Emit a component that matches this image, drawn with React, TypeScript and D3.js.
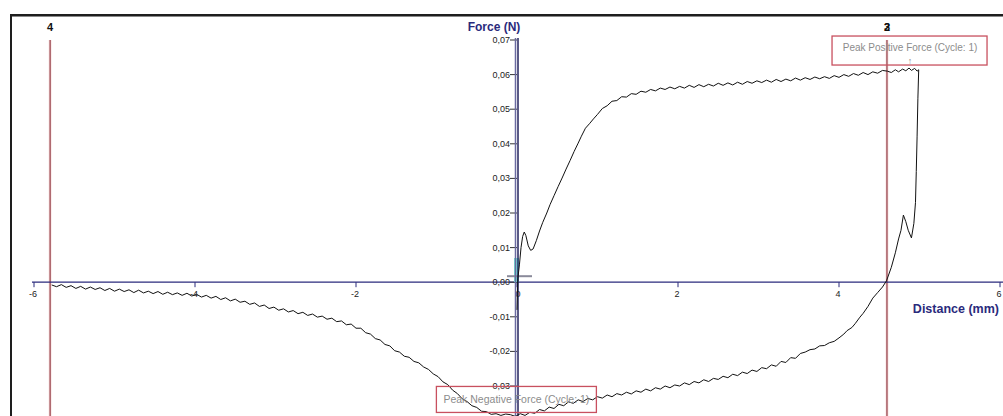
import * as d3 from "d3";
import React from "react";

// cycle 1, lower branch left of the origin (distance mm, force N)
const leftLowerBranch: [number, number][] = [
  [-5.78, -0.0008], [-5.72, -0.0013], [-5.66, -0.0007], [-5.6, -0.0015], [-5.54, -0.001], [-5.48, -0.0018],
  [-5.42, -0.0012], [-5.36, -0.002], [-5.3, -0.0014], [-5.24, -0.0021], [-5.18, -0.0016], [-5.12, -0.0024],
  [-5.06, -0.0018], [-5.0, -0.0026], [-4.94, -0.002], [-4.88, -0.0027], [-4.82, -0.0022], [-4.76, -0.003],
  [-4.7, -0.0023], [-4.64, -0.0031], [-4.58, -0.0026], [-4.52, -0.0033], [-4.46, -0.0027], [-4.4, -0.0035],
  [-4.34, -0.0029], [-4.28, -0.0036], [-4.22, -0.0031], [-4.16, -0.0038], [-4.1, -0.0032], [-4.04, -0.004],
  [-3.98, -0.0035], [-3.92, -0.0043], [-3.86, -0.0038], [-3.8, -0.0046], [-3.74, -0.0041], [-3.68, -0.005],
  [-3.62, -0.0045], [-3.56, -0.0054], [-3.5, -0.0049], [-3.44, -0.0058], [-3.38, -0.0055], [-3.32, -0.0064],
  [-3.26, -0.006], [-3.2, -0.007], [-3.14, -0.0066], [-3.08, -0.0076], [-3.02, -0.0072], [-2.96, -0.0081],
  [-2.9, -0.0077], [-2.84, -0.0086], [-2.78, -0.0082], [-2.72, -0.0091], [-2.66, -0.0087], [-2.6, -0.0096],
  [-2.54, -0.0092], [-2.48, -0.0101], [-2.42, -0.0098], [-2.36, -0.0107], [-2.3, -0.0104], [-2.24, -0.0114],
  [-2.18, -0.0112], [-2.12, -0.0123], [-2.06, -0.0121], [-2.0, -0.0133], [-1.94, -0.0133], [-1.88, -0.0146],
  [-1.82, -0.015], [-1.76, -0.0163], [-1.7, -0.0167], [-1.64, -0.018], [-1.58, -0.0184], [-1.52, -0.0198],
  [-1.46, -0.0202], [-1.4, -0.0214], [-1.34, -0.0217], [-1.28, -0.0229], [-1.22, -0.0233], [-1.16, -0.0245],
  [-1.1, -0.0252], [-1.04, -0.0265], [-0.98, -0.0273], [-0.92, -0.0288], [-0.86, -0.0296], [-0.8, -0.0312],
  [-0.74, -0.0322], [-0.68, -0.0337], [-0.62, -0.0345], [-0.56, -0.0357], [-0.5, -0.0362], [-0.44, -0.0373],
  [-0.38, -0.0374], [-0.32, -0.0382], [-0.26, -0.038], [-0.2, -0.0385], [-0.14, -0.0381], [-0.08, -0.0383],
  [-0.02, -0.0388],
];

// lower branch right of the origin, up to the second cursor
const rightLowerBranch: [number, number][] = [
  [0.04, -0.038], [0.1, -0.0385], [0.16, -0.0376], [0.22, -0.0379], [0.28, -0.0368], [0.34, -0.0372],
  [0.4, -0.0361], [0.46, -0.0365], [0.52, -0.0353], [0.58, -0.0357], [0.64, -0.0346], [0.7, -0.035],
  [0.76, -0.034], [0.82, -0.0345], [0.88, -0.0336], [0.94, -0.034], [1.0, -0.0331], [1.06, -0.0335],
  [1.12, -0.0326], [1.18, -0.0331], [1.24, -0.0322], [1.3, -0.0326], [1.36, -0.0318], [1.42, -0.0323],
  [1.48, -0.0314], [1.54, -0.0318], [1.6, -0.0309], [1.66, -0.0314], [1.72, -0.0305], [1.78, -0.0309],
  [1.84, -0.03], [1.9, -0.0305], [1.96, -0.0297], [2.02, -0.03], [2.08, -0.0291], [2.14, -0.0296],
  [2.2, -0.0287], [2.26, -0.0291], [2.32, -0.0282], [2.38, -0.0287], [2.44, -0.0278], [2.5, -0.0281],
  [2.56, -0.0272], [2.62, -0.0276], [2.68, -0.0266], [2.74, -0.027], [2.8, -0.026], [2.86, -0.0264],
  [2.92, -0.0254], [2.98, -0.0258], [3.04, -0.0247], [3.1, -0.025], [3.16, -0.0239], [3.22, -0.0243],
  [3.28, -0.0229], [3.34, -0.0232], [3.4, -0.0218], [3.46, -0.022], [3.52, -0.0206], [3.58, -0.0202],
  [3.64, -0.0195], [3.7, -0.0193], [3.76, -0.0184], [3.82, -0.0183], [3.88, -0.0175], [3.94, -0.0171],
  [4.0, -0.0161], [4.06, -0.015], [4.1, -0.014], [4.16, -0.0131], [4.2, -0.012], [4.26, -0.0101],
  [4.3, -0.009], [4.36, -0.007], [4.42, -0.0046], [4.48, -0.003], [4.54, -0.0014], [4.59, 0.0004],
];

// release spike before the peak
const releaseSpike: [number, number][] = [
  [4.65, 0.0043], [4.7, 0.0085], [4.74, 0.0125], [4.77, 0.015], [4.8, 0.0194], [4.83, 0.0175],
  [4.86, 0.015], [4.9, 0.0128], [4.93, 0.017], [4.95, 0.023], [4.96, 0.032], [4.97, 0.042],
  [4.98, 0.053], [4.99, 0.0614],
];

// upper branch, travelling back to the origin
const upperBranch: [number, number][] = [
  [4.97, 0.061], [4.94, 0.0618], [4.9, 0.0612], [4.87, 0.0619], [4.83, 0.0611], [4.79, 0.0616],
  [4.74, 0.0608], [4.7, 0.0614], [4.65, 0.0606], [4.6, 0.061], [4.54, 0.0612], [4.48, 0.0604],
  [4.42, 0.0608], [4.36, 0.06], [4.3, 0.0606], [4.24, 0.0598], [4.18, 0.0603], [4.12, 0.0595],
  [4.06, 0.06], [4.0, 0.0592], [3.94, 0.0597], [3.88, 0.0589], [3.82, 0.0594], [3.76, 0.0588],
  [3.7, 0.0593], [3.64, 0.0586], [3.58, 0.0591], [3.52, 0.0584], [3.46, 0.059], [3.4, 0.0582],
  [3.34, 0.0587], [3.28, 0.058], [3.22, 0.0586], [3.16, 0.0578], [3.1, 0.0584], [3.04, 0.0577],
  [2.98, 0.0582], [2.92, 0.0575], [2.86, 0.058], [2.8, 0.0572], [2.74, 0.0578], [2.68, 0.057],
  [2.62, 0.0576], [2.56, 0.0569], [2.5, 0.0575], [2.44, 0.0567], [2.38, 0.0572], [2.32, 0.0565],
  [2.26, 0.0571], [2.2, 0.0563], [2.14, 0.0569], [2.08, 0.0561], [2.02, 0.0566], [1.96, 0.0559],
  [1.9, 0.0564], [1.84, 0.0557], [1.78, 0.0561], [1.72, 0.0553], [1.66, 0.0557], [1.6, 0.0549],
  [1.54, 0.0552], [1.48, 0.0543], [1.42, 0.0545], [1.36, 0.0535], [1.3, 0.0536], [1.24, 0.0525],
  [1.18, 0.0523], [1.12, 0.051], [1.06, 0.0502], [1.0, 0.0485], [0.95, 0.0472], [0.9, 0.0458],
  [0.85, 0.0445], [0.8, 0.0422], [0.76, 0.0402], [0.71, 0.0378], [0.66, 0.0352], [0.61, 0.0327],
  [0.56, 0.0301], [0.51, 0.0276], [0.46, 0.025], [0.41, 0.0224], [0.37, 0.02], [0.32, 0.0173],
  [0.28, 0.0148], [0.24, 0.012], [0.2, 0.0096], [0.17, 0.0092], [0.14, 0.0105], [0.11, 0.0135],
  [0.09, 0.0145], [0.07, 0.0132], [0.05, 0.01], [0.03, 0.005], [0.01, 0.001], [0.0, -0.008],
];

const cursorDistances = [-5.8, 4.596];
const cursorLabels = [["4"], ["2", "3"]];
const xTickValues = [-6, -4, -2, 0, 2, 4, 6];
const yTickValues = [-0.03, -0.02, -0.01, 0, 0.01, 0.02, 0.03, 0.04, 0.05, 0.06, 0.07];

const W = 1003;
const H = 416;
const FONT = "'Liberation Sans', Arial, sans-serif";
const NAVY = "#2a2a7c";

const locale = d3.formatLocale({ decimal: ",", thousands: ".", grouping: [3], currency: ["", ""], minus: "-" });
const fmtForce = locale.format(".2f");

export default function App() {
  const x = d3.scaleLinear().domain([-6, 6]).range([34, 1000]);
  const y = d3.scaleLinear().domain([-0.03, 0.07]).range([386, 40]);
  const x0 = x(0);
  const y0 = y(0);

  const cycle = [...leftLowerBranch, ...rightLowerBranch, ...releaseSpike, ...upperBranch];
  const line = d3
    .line<[number, number]>()
    .x((d) => x(d[0]))
    .y((d) => y(d[1]));

  const peakPos = cycle.reduce((a, b) => (b[1] > a[1] ? b : a));
  const peakNeg = cycle.reduce((a, b) => (b[1] < a[1] ? b : a));
  const posX = x(peakPos[0]) + 1;
  const negX = x(peakNeg[0]) + 1;

  return (
    <div style={{ position: "fixed", left: 0, top: 0, width: W, height: H, background: "#fff" }}>
      <svg width={W} height={H} style={{ display: "block", fontFamily: FONT }}>
        <rect width={W} height={H} fill="#fff" />
        {/* window frame */}
        <rect x={10} y={14} width={W - 10} height={2} fill="#1e1e1e" />
        <rect x={10} y={16} width={W - 10} height={1} fill="#8a8a8a" />
        <rect x={10} y={14} width={2} height={H - 14} fill="#1e1e1e" />

        {/* cursor lines */}
        {cursorDistances.map((d, i) => (
          <g key={i}>
            <line x1={x(d)} x2={x(d)} y1={40} y2={H} stroke="#f9e2e2" strokeWidth={3} />
            <line x1={x(d)} x2={x(d)} y1={40} y2={H} stroke="#7e1a24" strokeWidth={1} />
            {cursorLabels[i].map((t) => (
              <text key={t} x={x(d)} y={31} textAnchor="middle" fontSize={11} fontWeight="bold" fill="#111">
                {t}
              </text>
            ))}
          </g>
        ))}

        {/* x axis */}
        <line x1={x(-6) - 2} x2={W} y1={y0} y2={y0} stroke={NAVY} strokeWidth={1.2} />
        {xTickValues.map((t) => (
          <g key={t}>
            <line x1={x(t)} x2={x(t)} y1={y0} y2={y0 + 5} stroke={NAVY} strokeWidth={1} />
            <text x={x(t) + (t === 0 ? 1 : -1)} y={y0 + 15} textAnchor="middle" fontSize={9} fill="#222">
              {t}
            </text>
          </g>
        ))}
        <text x={999} y={313} textAnchor="end" fontSize={12.5} fontWeight="bold" fill={NAVY}>
          Distance (mm)
        </text>

        {/* y axis */}
        {yTickValues.map((t) => (
          <g key={t}>
            <line x1={x0 - 7} x2={x0} y1={y(t)} y2={y(t)} stroke="#333" strokeWidth={1} />
            <text x={x0 - 7} y={y(t) + 3} textAnchor="end" fontSize={9} fill="#222">
              {fmtForce(t)}
            </text>
          </g>
        ))}
        <text x={494} y={31} textAnchor="middle" fontSize={12} fontWeight="bold" fill={NAVY}>
          Force (N)
        </text>

        {/* origin marker */}
        <rect x={x0 - 3} y={y(0.007)} width={5} height={y0 - y(0.007)} fill="#74e0d2" />
        <line x1={x0 - 10} x2={x0 + 15} y1={y0 - 6} y2={y0 - 6} stroke="#8a8a9a" strokeWidth={2} />

        <line x1={x0 - 1.5} x2={x0 - 1.5} y1={y(0.07) - 2} y2={H} stroke="#6a6aa0" strokeWidth={1.5} />
        <line x1={x0 + 1} x2={x0 + 1} y1={y(0.07) - 2} y2={H} stroke="#23235e" strokeWidth={1.5} />

        {/* curve */}
        <path d={line(cycle) ?? ""} fill="none" stroke="#111" strokeWidth={1} strokeLinejoin="round" />

        {/* peak annotations */}
        <rect x={posX - 78} y={y(peakPos[1]) - 32} width={155} height={29} fill="none" stroke="#c8505f" strokeWidth={1.3} />
        <text x={posX} y={y(peakPos[1]) - 17} textAnchor="middle" fontSize={10} fill="#8c8c8c">
          Peak Positive Force (Cycle: 1)
        </text>
        <text x={posX} y={y(peakPos[1]) - 4} textAnchor="middle" fontSize={9} fill="#8c8c8c">
          ↑
        </text>
        <rect x={negX - 80} y={y(peakNeg[1]) - 30} width={160} height={26} fill="none" stroke="#c8505f" strokeWidth={1.3} />
        <text x={negX} y={y(peakNeg[1]) - 13} textAnchor="middle" fontSize={10.5} fill="#8c8c8c">
          Peak Negative Force (Cycle: 1)
        </text>
      </svg>
    </div>
  );
}
